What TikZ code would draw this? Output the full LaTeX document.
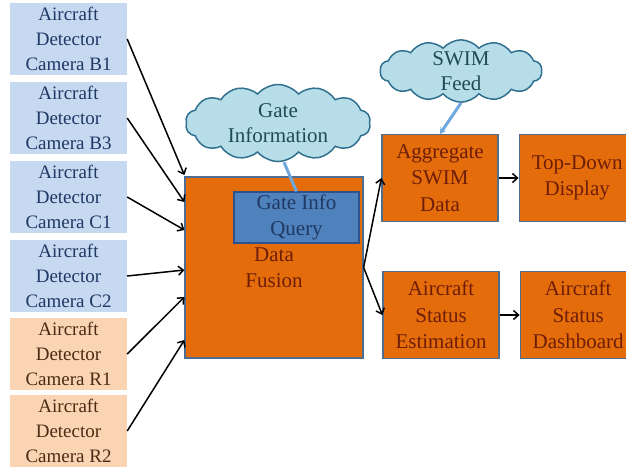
\documentclass[tikz,border=0pt]{standalone}
\usepackage{fontspec}
\setmainfont{Liberation Serif}
\usetikzlibrary{shapes.symbols, arrows.meta, positioning}
\definecolor{CamBlue}{HTML}{C6D9F1}
\definecolor{CamPeach}{HTML}{FBD4B4}
\definecolor{FusionOrange}{HTML}{E46C0A}
\definecolor{BoxEdge}{HTML}{4F6D8F}
\definecolor{QueryBlue}{HTML}{4F81BD}
\definecolor{QueryEdge}{HTML}{2F528F}
\definecolor{CloudFill}{HTML}{B7DEE8}
\definecolor{CloudEdge}{HTML}{31708F}
\definecolor{LinkBlue}{HTML}{6FA8DC}
\definecolor{NavyText}{HTML}{1F3864}
\definecolor{BrownText}{HTML}{4A2C14}
\definecolor{RustText}{HTML}{6E1E08}
\definecolor{TealText}{HTML}{1D4B57}

\begin{document}
\begin{tikzpicture}[x=1pt, y=-1pt,
    cambox/.style={rectangle, minimum width=117pt, minimum height=72pt,
        inner sep=0pt, align=center, font=\fontsize{19}{25}\selectfont},
    procbox/.style={rectangle, fill=FusionOrange, draw=BoxEdge, line width=1.2pt,
        text=RustText, minimum width=116pt, minimum height=87pt, inner sep=0pt,
        align=center, font=\fontsize{21}{26.5}\selectfont},
    infocloud/.style={cloud, cloud puffs=14, cloud puff arc=100, cloud ignores aspect,
        fill=CloudFill, draw=CloudEdge, line width=1.5pt, text=TealText, align=center,
        inner sep=0pt, font=\fontsize{21}{25}\selectfont},
    feed/.style={LinkBlue, line width=3pt},
    flow/.style={-{Straight Barb[length=5pt,width=9pt]}, line width=1.5pt, black}]
    \useasboundingbox[fill=white] (0,0) rectangle (626,467);

    % Cameras
    \node[cambox, fill=CamBlue, text=NavyText] (camB1) at (68.5,39) {Aircraft\\Detector\\Camera B1};
    \node[cambox, fill=CamBlue, text=NavyText] (camB3) at (68.5,118) {Aircraft\\Detector\\Camera B3};
    \node[cambox, fill=CamBlue, text=NavyText] (camC1) at (68.5,197) {Aircraft\\Detector\\Camera C1};
    \node[cambox, fill=CamBlue, text=NavyText] (camC2) at (68.5,276) {Aircraft\\Detector\\Camera C2};
    \node[cambox, fill=CamPeach, text=BrownText] (camR1) at (68.5,354) {Aircraft\\Detector\\Camera R1};
    \node[cambox, fill=CamPeach, text=BrownText] (camR2) at (68.5,431) {Aircraft\\Detector\\Camera R2};

    % Fusion
    \node[procbox, minimum width=178pt, minimum height=181pt] (fusion) at (274,267.5) {Data\\Fusion};
    \node[rectangle, fill=QueryBlue, draw=QueryEdge, line width=1.2pt, text=NavyText,
          minimum width=125pt, minimum height=51pt, inner sep=0pt, align=center,
          font=\fontsize{21}{26}\selectfont] (query) at (296.5,217.5) {Gate Info\\Query};

    % Clouds
    \node[infocloud, minimum width=185pt, minimum height=77pt] (gatecloud) at (278,123) {Gate\\Information};
    \node[infocloud, minimum width=162pt, minimum height=62pt] (swimcloud) at (461,71) {SWIM\\Feed};

    % Outputs
    \node[procbox] (aggregate) at (440,178) {Aggregate\\SWIM\\Data};
    \node[procbox, right=20pt of aggregate] (topdown) {Top-Down\\Display};
    \node[procbox] (estimation) at (441,315) {Aircraft\\Status\\Estimation};
    \node[procbox, right=20pt of estimation] (dashboard) {Aircraft\\Status\\Dashboard};

    % Links
    \draw[feed] ([xshift=6pt]gatecloud.south) -- (query.north);
    \draw[feed, -{Stealth[length=6pt,width=7pt]}] (swimcloud.south) -- (aggregate.north);

    \draw[flow] (camB1.east) -- ([yshift=92.5pt]fusion.west);
    \draw[flow] (camB3.east) -- ([yshift=65.5pt]fusion.west);
    \draw[flow] (camC1.east) -- ([yshift=37.5pt]fusion.west);
    \draw[flow] (camC2.east) -- ([yshift=-2.5pt]fusion.west);
    \draw[flow] (camR1.east) -- ([yshift=-29.5pt]fusion.west);
    \draw[flow] (camR2.east) -- ([yshift=-72.5pt]fusion.west);

    \draw[flow] (fusion.east) -- (aggregate.west);
    \draw[flow] (fusion.east) -- (estimation.west);
    \draw[flow] (aggregate) -- (topdown);
    \draw[flow] (estimation) -- (dashboard);
\end{tikzpicture}
\end{document}
